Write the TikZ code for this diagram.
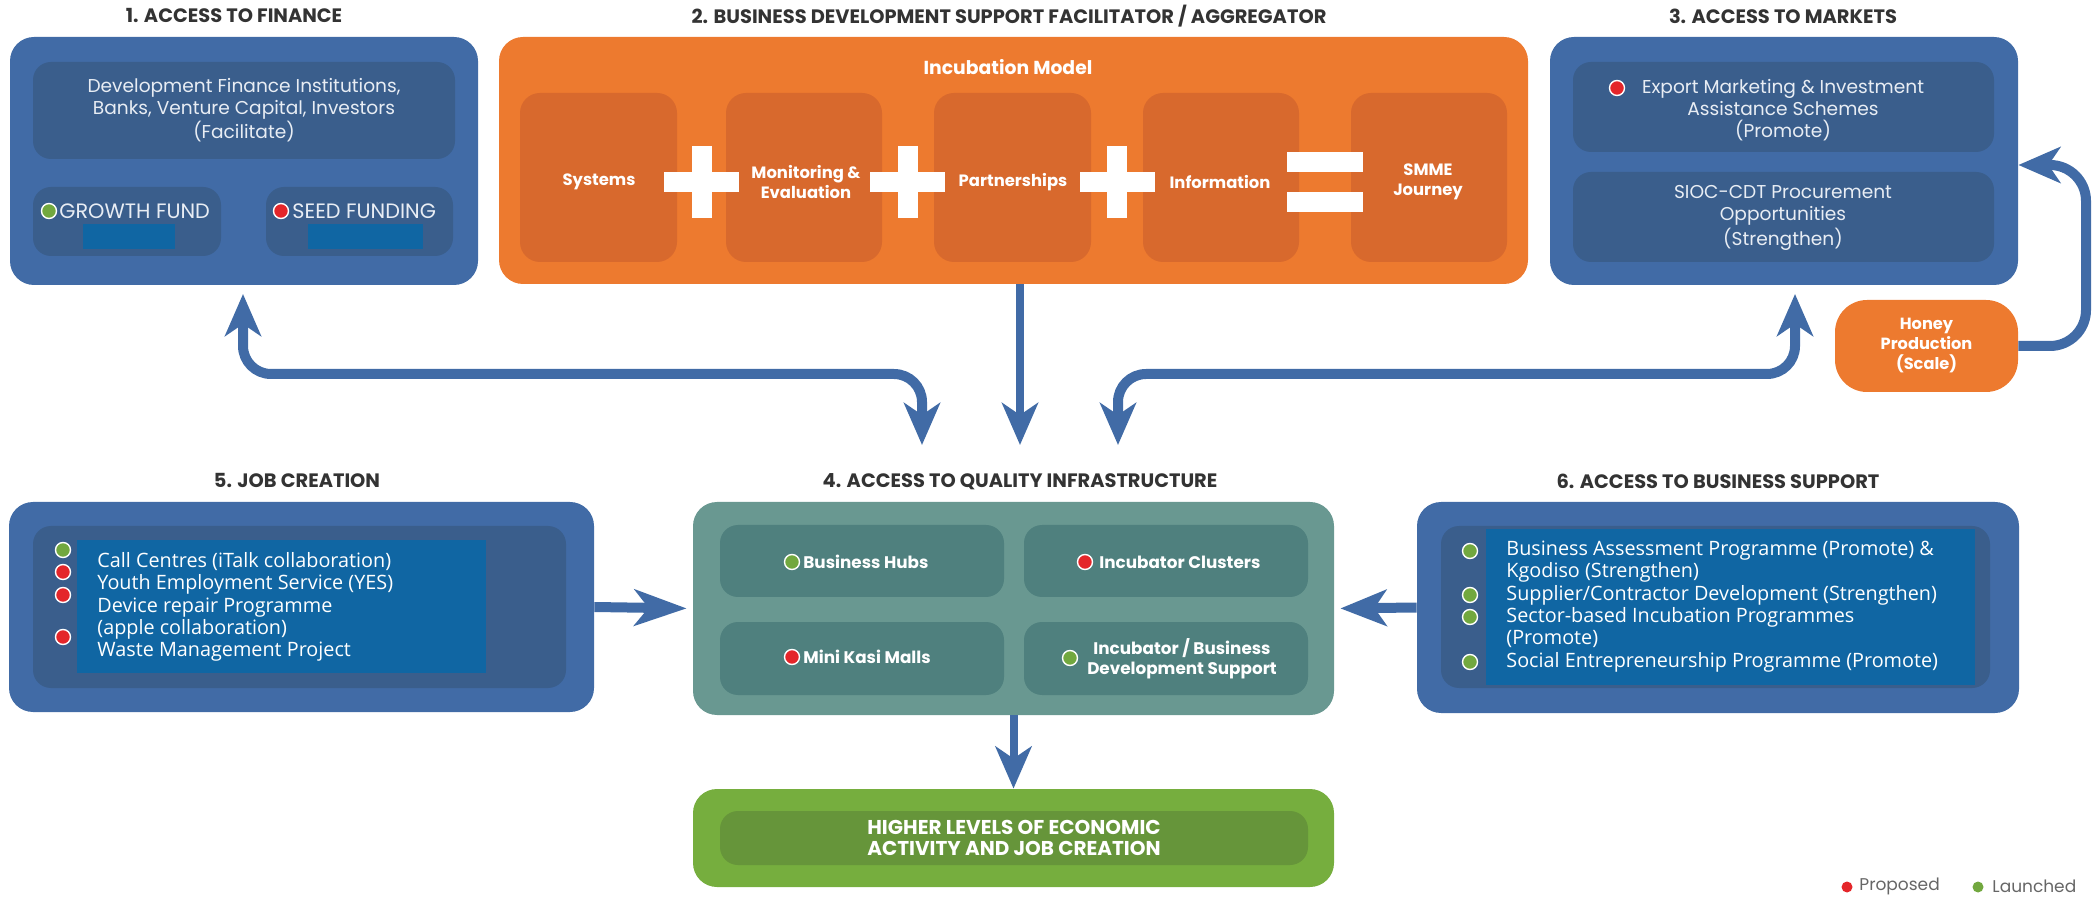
\documentclass[tikz,border=0pt]{standalone}
\usepackage{fontspec}
\setmainfont{Poppins}
\newfontfamily\listfont{Open Sans}
\usetikzlibrary{fit,arrows.meta}
\definecolor{oblue}{HTML}{416BA6}
\definecolor{iblue}{HTML}{3A5E8C}
\definecolor{bblue}{HTML}{1066A3}
\definecolor{oorange}{HTML}{ED7A2F}
\definecolor{iorange}{HTML}{D8692D}
\definecolor{oteal}{HTML}{699891}
\definecolor{iteal}{HTML}{4F807E}
\definecolor{ogreen}{HTML}{76AE3E}
\definecolor{igreen}{HTML}{66953A}
\definecolor{dred}{HTML}{E4262A}
\definecolor{dgreen}{HTML}{72A83F}
\definecolor{titlegray}{HTML}{333333}
\definecolor{softwhite}{HTML}{E8EDF4}
\definecolor{leggray}{HTML}{666666}
\tikzset{
  panel/.style={fill=#1, rounded corners=12pt, inner sep=0pt},
  tile/.style={fill=#1, rounded corners=9pt, inner sep=0pt},
  flat/.style={fill=#1, inner sep=0pt},
  ttl/.style={font=\fontsize{9.7}{11}\selectfont\bfseries, text=titlegray, inner sep=0pt},
  lbl/.style={font=\fontsize{8.2}{10}\selectfont\bfseries, text=white, align=center, inner sep=0pt},
  body/.style={font=\fontsize{9.3}{11}\selectfont, text=softwhite, align=center, inner sep=0pt},
  listtxt/.style={font=\listfont\fontsize{9.9}{11.15}\selectfont, text=white, align=left, inner sep=0pt},
  dot/.style={circle, fill=#1, draw=white, line width=0.7pt, minimum size=7.5pt, inner sep=0pt},
  ldot/.style={circle, fill=#1, minimum size=5.5pt, inner sep=0pt},
  bigtip/.tip={Stealth[length=21pt,width=18pt,inset=6pt]},
  conn/.style={draw=oblue, line width=5pt},
}
\begin{document}
\begin{tikzpicture}[x=0.5pt,y=-0.5pt]
\useasboundingbox (0,0) rectangle (2093,897);

% ---------- titles
\node[ttl] (t1) at (234,16) {1. ACCESS TO FINANCE};
\node[ttl] (t2) at (1009,16) {2. BUSINESS DEVELOPMENT SUPPORT FACILITATOR / AGGREGATOR};
\node[ttl] (t3) at (1783,16) {3. ACCESS TO MARKETS};
\node[ttl] (t5) at (297,480) {5. JOB CREATION};
\node[ttl] (t4) at (1020,482) {4. ACCESS TO QUALITY INFRASTRUCTURE};
\node[ttl] (t6) at (1718,481) {6. ACCESS TO BUSINESS SUPPORT};

% ---------- 1. finance
\node[panel=oblue, fit={(10,37)(478,285)}] (fin) {};
\node[tile=iblue, fit={(33,62)(455,159)}] (finA) {};
\node[body] (finAt) at (finA.center) {Development Finance Institutions,\\Banks, Venture Capital, Investors\\(Facilitate)};
\node[tile=iblue, fit={(33,187)(221,256)}] (finB) {};
\node[tile=iblue, fit={(266,187)(453,256)}] (finC) {};
\node[flat=bblue, fit={(83,224)(175,249)}] (finBr) {};
\node[flat=bblue, fit={(308,224)(423,249)}] (finCr) {};
\node[dot=dgreen] (finBd) at (49,211) {};
\node[body, anchor=west, font=\fontsize{10.4}{11}\selectfont] (finBt) at (59,211) {GROWTH FUND};
\node[dot=dred] (finCd) at (281,211) {};
\node[body, anchor=west, font=\fontsize{10.4}{11}\selectfont] (finCt) at (292,211) {SEED FUNDING};

% ---------- 2. BDS
\node[panel=oorange, fit={(499,37)(1528,284)}] (bds) {};
\node[lbl, font=\fontsize{9.4}{10}\selectfont\bfseries] (incm) at (1008,67) {Incubation Model};
\node[tile=iorange, rounded corners=10pt, fit={(520,93)(677,262)}] (s1) {};
\node[tile=iorange, rounded corners=10pt, fit={(726,93)(882,262)}] (s2) {};
\node[tile=iorange, rounded corners=10pt, fit={(934,93)(1091,262)}] (s3) {};
\node[tile=iorange, rounded corners=10pt, fit={(1143,93)(1299,262)}] (s4) {};
\node[tile=iorange, rounded corners=10pt, fit={(1351,93)(1507,262)}] (s5) {};
\foreach \cx in {701.5,907.5,1117}{
  \fill[white] (\cx-37.5,172) rectangle (\cx+37.5,192);
  \fill[white] (\cx-10,146) rectangle (\cx+10,218);
}
\fill[white] (1287,152) rectangle (1363,172);
\fill[white] (1287,192) rectangle (1363,212);
\node[lbl] (s1t) at (599,182) {Systems};
\node[lbl] (s2t) at (806,182) {Monitoring \&\\Evaluation};
\node[lbl] (s3t) at (1013,182) {Partnerships};
\node[lbl] (s4t) at (1220,182) {Information};
\node[lbl] (s5t) at (1428,182) {SMME\\Journey};

% ---------- 3. markets
\node[panel=oblue, fit={(1550,37)(2018,285)}] (mkt) {};
\node[tile=iblue, fit={(1573,62)(1994,152)}] (mktA) {};
\node[tile=iblue, fit={(1573,172)(1994,262)}] (mktB) {};
\node[body] (mktAt) at (1783,110) {Export Marketing \& Investment\\Assistance Schemes\\(Promote)};
\node[dot=dred] (mktAd) at (1617,88) {};
\node[body] (mktBt) at (1783,218) {SIOC-CDT Procurement\\Opportunities\\(Strengthen)};
\node[panel=oorange, rounded corners=16pt, fit={(1835,300)(2018,392)}] (honey) {};
\node[lbl, font=\fontsize{8.1}{10}\selectfont\bfseries] (honeyt) at (honey.center) {Honey\\Production\\(Scale)};

% ---------- 5. job creation
\node[panel=oblue, fit={(9,502)(594,712)}] (job) {};
\node[tile=iblue, fit={(33,526)(566,688)}] (jobA) {};
\node[flat=bblue, fit={(77,540)(486,673)}] (jobR) {};
\node[listtxt, anchor=west] (jobt) at (97,607) {Call Centres (iTalk collaboration)\\Youth Employment Service (YES)\\Device repair Programme\\(apple collaboration)\\Waste Management Project};
\node[dot=dgreen] (j1) at (63,550) {};
\node[dot=dred] (j2) at (63,572) {};
\node[dot=dred] (j3) at (63,595) {};
\node[dot=dred] (j4) at (63,637) {};

% ---------- 4. infrastructure
\node[panel=oteal, fit={(693,502)(1334,715)}] (inf) {};
\node[tile=iteal, fit={(720,525)(1004,597)}] (infA) {};
\node[tile=iteal, fit={(1024,525)(1308,597)}] (infB) {};
\node[tile=iteal, fit={(720,622)(1004,695)}] (infC) {};
\node[tile=iteal, fit={(1024,622)(1308,695)}] (infD) {};
\node[dot=dgreen] (infAd) at (792,562) {};
\node[lbl, anchor=west, font=\fontsize{8.4}{10}\selectfont\bfseries] (infAt) at (803,562) {Business Hubs};
\node[dot=dred] (infBd) at (1085,562) {};
\node[lbl, anchor=west, font=\fontsize{8.4}{10}\selectfont\bfseries] (infBt) at (1099,562) {Incubator Clusters};
\node[dot=dred] (infCd) at (792,657) {};
\node[lbl, anchor=west, font=\fontsize{8.4}{10}\selectfont\bfseries] (infCt) at (803,657) {Mini Kasi Malls};
\node[dot=dgreen] (infDd) at (1070,658) {};
\node[lbl, font=\fontsize{8.4}{10}\selectfont\bfseries] (infDt) at (1182,659) {Incubator / Business\\Development Support};

% ---------- 6. business support
\node[panel=oblue, fit={(1417,502)(2019,713)}] (bsup) {};
\node[tile=iblue, fit={(1441,526)(1990,688)}] (bsupA) {};
\node[flat=bblue, fit={(1486,529)(1975,685)}] (bsupR) {};
\node[listtxt, anchor=west] (bsupt) at (1506,606.5) {Business Assessment Programme (Promote) \&\\Kgodiso (Strengthen)\\Supplier/Contractor Development (Strengthen)\\Sector-based Incubation Programmes\\(Promote)\\Social Entrepreneurship Programme (Promote)};
\node[dot=dgreen] (b1) at (1470,551) {};
\node[dot=dgreen] (b2) at (1470,595) {};
\node[dot=dgreen] (b3) at (1470,617) {};
\node[dot=dgreen] (b4) at (1470,662) {};

% ---------- outcome
\node[panel=ogreen, fit={(693,789)(1334,887)}] (goal) {};
\node[tile=igreen, fit={(720,811)(1308,865)}] (goalA) {};
\node[lbl, font=\fontsize{10}{10.5}\selectfont\bfseries] (goalt) at (1014,838) {HIGHER LEVELS OF ECONOMIC\\ACTIVITY AND JOB CREATION};

% ---------- legend
\node[ldot=dred] (lg1) at (1847,887) {};
\node[anchor=west, inner sep=0pt, text=leggray, font=\fontsize{8.5}{10}\selectfont] (lg1t) at (1859,886) {Proposed};
\node[ldot=dgreen] (lg2) at (1978,887) {};
\node[anchor=west, inner sep=0pt, text=leggray, font=\fontsize{8.5}{10}\selectfont] (lg2t) at (1992,886) {Launched};

% ---------- connectors
\coordinate (finTip) at (243,294);
\coordinate (infTipL) at (922,445);
\coordinate (infTipM) at (1020,445);
\coordinate (infTipR) at (1118,445);
\coordinate (mktTip) at (1795,294);
\coordinate (bendL) at (243,374);
\coordinate (bendR) at (1795,374);
\coordinate (hbend) at (2086,165);

\draw[conn, {bigtip}-{bigtip}, rounded corners=14pt] (finTip) -- (bendL) -- (bendL -| infTipL) -- (infTipL);
\draw[conn, {bigtip}-{bigtip}, rounded corners=14pt] (mktTip) -- (bendR) -- (bendR -| infTipR) -- (infTipR);
\draw[conn, line width=4pt, -{bigtip}] (bds.south -| infTipM) -- (infTipM);
\draw[conn, line width=4pt, -{bigtip}] (inf.south) -- (goal.north);
\draw[conn, -{Stealth[length=26pt,width=18pt,inset=7pt]}, shorten >=3pt] (job.east) -- (inf.west);
\draw[conn, -{Stealth[length=23pt,width=18pt,inset=6pt]}, shorten >=3pt] (bsup.west) -- (inf.east);
\draw[conn, -{bigtip}, rounded corners=18pt] (honey.east) -| (hbend) -- (hbend -| mkt.east);
\end{tikzpicture}
\end{document}
